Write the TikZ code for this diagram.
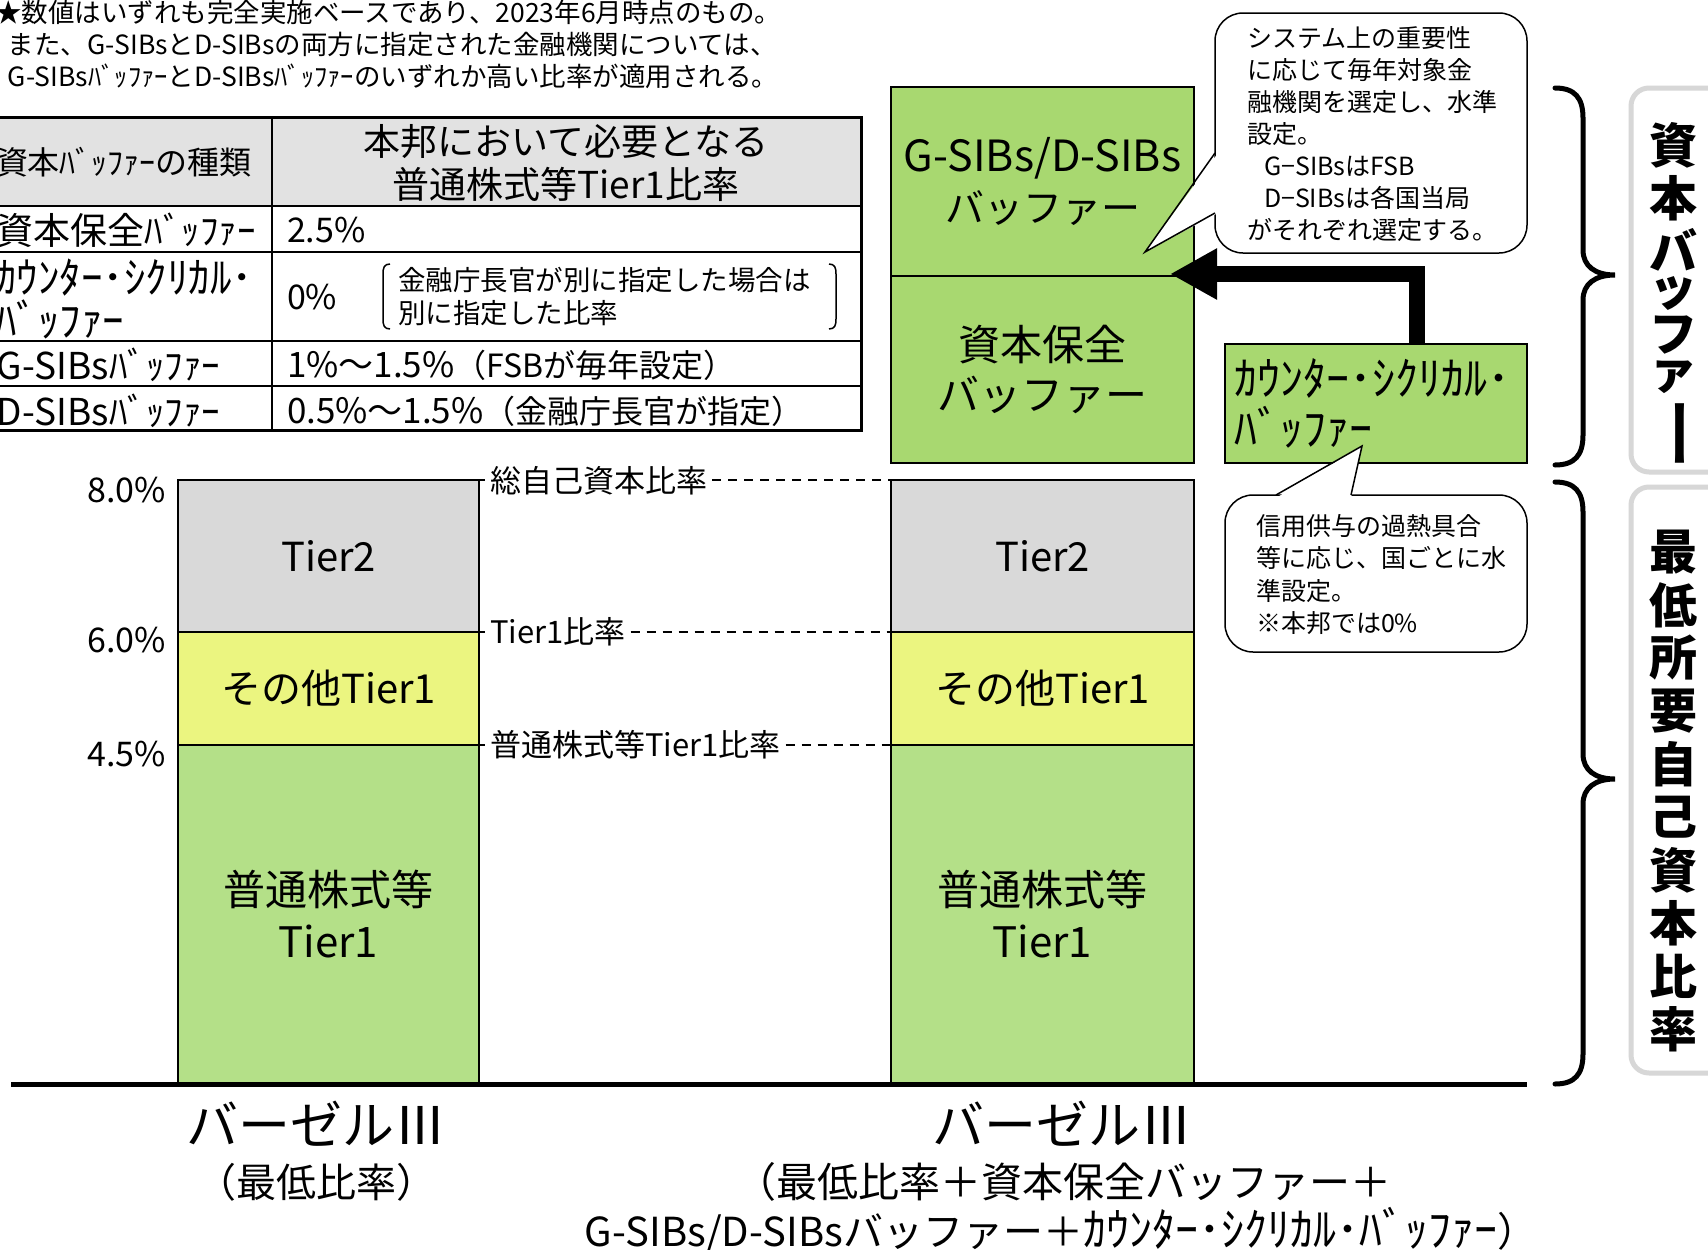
\documentclass[tikz,border=0pt]{standalone}
\usepackage{fontspec}
\setmainfont{Noto Sans CJK JP}
\usetikzlibrary{arrows.meta}
\definecolor{cgreen}{RGB}{180,224,136}
\definecolor{bgreen}{RGB}{168,216,112}
\definecolor{cyellow}{RGB}{235,245,128}
\definecolor{cgray}{RGB}{217,217,217}
\definecolor{hdrgray}{RGB}{226,226,226}
\definecolor{lblgray}{RGB}{215,215,215}
\newcommand\myfs[1]{\fontsize{#1}{#1}\selectfont}
\begin{document}
\begin{tikzpicture}[x=1pt,y=-1pt,
  barbox/.style={draw=black, line width=2pt, inner sep=0pt, outer sep=0pt, align=center},
  lbl/.style={inner sep=0pt, outer sep=0pt},
  dashln/.style={line width=2pt, dash pattern=on 9pt off 7pt},
  tickln/.style={line width=2pt},
  tline/.style={line width=2.5pt},
  callout/.style={draw=black, line width=1.5pt, fill=white, rounded corners=28pt},
  bracepath/.style={line width=5pt, line cap=round},
  vlab/.style={inner sep=0pt, font={\bfseries\fontsize{48}{48}\selectfont}},
  lblbox/.style={draw=lblgray, line width=5pt, rounded corners=18pt},
  bigarrow/.style={line width=16pt, -{Triangle[length=47pt,width=48pt]}}
]
\clip (0,0) rectangle (1708,1250);
\fill[white] (0,0) rectangle (1708,1250);

% header notes
\node[lbl, anchor=west, font=\myfs{26.5}] (n1) at (-5,12) {★数値はいずれも完全実施ベースであり、2023年6月時点のもの。};
\node[lbl, anchor=west, font=\myfs{26.5}] (n2) at (8,44) {また、G-SIBsとD-SIBsの両方に指定された金融機関については、};
\node[lbl, anchor=west, font=\myfs{26.5}] (n3) at (8,76) {G-SIBsﾊﾞｯﾌｧｰとD-SIBsﾊﾞｯﾌｧｰのいずれか高い比率が適用される。};

% table
\fill[hdrgray] (-5,117) rectangle (861,206);
\draw[tline] (-5,206) -- (861,206);
\draw[tline] (-5,252) -- (861,252);
\draw[tline] (-5,341) -- (861,341);
\draw[tline] (-5,386) -- (861,386);
\draw[tline] (272,117) -- (272,430);
\draw[line width=3pt] (-5,117) rectangle (861,430);
\node[lbl, anchor=west, font=\myfs{32}] (th1) at (-4,162) {資本ﾊﾞｯﾌｧｰの種類};
\node[lbl, align=center, font={\fontsize{37}{43}\selectfont}] (th2) at (566,163.5) {本邦において必要となる\\普通株式等Tier1比率};
\node[lbl, anchor=west, font=\myfs{37}] (r1a) at (-3,230) {資本保全ﾊﾞｯﾌｧｰ};
\node[lbl, anchor=west, font=\myfs{34}] (r1b) at (287,230) {2.5\%};
\node[lbl, anchor=west, align=left, font={\fontsize{43}{43}\selectfont}] (r2a) at (-5,299) {ｶｳﾝﾀｰ･ｼｸﾘｶﾙ･\\ﾊﾞｯﾌｧｰ};
\node[lbl, anchor=west, font=\myfs{34}] (r2b) at (287,297) {0\%};
\node[lbl, anchor=west, align=left, font={\fontsize{27.5}{33}\selectfont}] (r2c) at (398,297) {金融庁長官が別に指定した場合は\\別に指定した比率};
\draw[line width=1.5pt] (390,264) .. controls (384,264) and (383,268) .. (383,274) -- (383,319) .. controls (383,325) and (384,329) .. (390,329);
\draw[line width=1.5pt] (829,264) .. controls (835,264) and (836,268) .. (836,274) -- (836,319) .. controls (836,325) and (835,329) .. (829,329);
\node[lbl, anchor=west, font=\myfs{37}] (r3a) at (-3,365) {G-SIBsﾊﾞｯﾌｧｰ};
\node[lbl, anchor=west, font=\myfs{35}] (r3b) at (287,365) {1\%～1.5\%{\myfs{32}（FSBが毎年設定）}};
\node[lbl, anchor=west, font=\myfs{37}] (r4a) at (-3,411) {D-SIBsﾊﾞｯﾌｧｰ};
\node[lbl, anchor=west, font=\myfs{35}] (r4b) at (287,411) {0.5\%～1.5\%{\myfs{32}（金融庁長官が指定）}};

% left bar
\node[barbox, fill=cgray, minimum width=301pt, minimum height=152pt, font=\myfs{40}] (t2L) at (328.5,556) {Tier2};
\node[barbox, fill=cyellow, minimum width=301pt, minimum height=113pt, font=\myfs{40}] (otL) at (328.5,688.5) {その他Tier1};
\node[barbox, fill=cgreen, minimum width=301pt, minimum height=339pt, font={\fontsize{42}{52}\selectfont}] (ceL) at (328.5,914.5) {普通株式等\\Tier1};

% right bar
\node[barbox, fill=cgray, minimum width=303pt, minimum height=152pt, font=\myfs{40}] (t2R) at (1042.5,556) {Tier2};
\node[barbox, fill=cyellow, minimum width=303pt, minimum height=113pt, font=\myfs{40}] (otR) at (1042.5,688.5) {その他Tier1};
\node[barbox, fill=cgreen, minimum width=303pt, minimum height=339pt, font={\fontsize{42}{52}\selectfont}] (ceR) at (1042.5,914.5) {普通株式等\\Tier1};
\node[barbox, fill=bgreen, minimum width=303pt, minimum height=187pt, font={\fontsize{42}{50}\selectfont}] (csR) at (1042.5,369.5) {資本保全\\バッファー};
\node[barbox, fill=bgreen, minimum width=303pt, minimum height=189pt, font={\fontsize{43}{51}\selectfont}] (gsR) at (1042.5,181.5) {G-SIBs/D-SIBs\\{\myfs{39}バッファー}};

% counter-cyclical box
\node[barbox, fill=bgreen, line width=2.5pt, minimum width=302pt, minimum height=119pt, text width=284pt, inner xsep=9pt, align=left, font={\fontsize{46}{50}\selectfont}] (cc) at (1376,403.5) {ｶｳﾝﾀｰ･ｼｸﾘｶﾙ･\\ﾊﾞｯﾌｧｰ};

% y-axis labels
\node[lbl, anchor=east, font=\myfs{34}] (y8) at (166,490) {8.0\%};
\node[lbl, anchor=east, font=\myfs{34}] (y6) at (166,640) {6.0\%};
\node[lbl, anchor=east, font=\myfs{34}] (y45) at (166,754) {4.5\%};

% reference lines
\node[lbl, anchor=west, inner xsep=5pt, font=\myfs{31}] (la) at (485,481) {総自己資本比率};
\node[lbl, anchor=west, inner xsep=5pt, font=\myfs{31}] (lb) at (485,632) {Tier1比率};
\node[lbl, anchor=west, inner xsep=5pt, font=\myfs{31}] (lc) at (485,745) {普通株式等Tier1比率};
\draw[tickln] (t2L.north east) -- (la.west |- t2L.north east);
\draw[dashln] (la.east |- t2R.north west) -- (t2R.north west);
\draw[tickln] (otL.north east) -- (lb.west);
\draw[dashln] (lb.east) -- (otR.north west);
\draw[tickln] (ceL.north east) -- (lc.west);
\draw[dashln] (lc.east) -- (ceR.north west);

% axis
\coordinate (ax1) at (11,1084);
\coordinate (ax2) at (1527,1084);
\draw[line width=5pt] (ax1) -- (ax2);

% callout 1
\draw[callout] (1215,13) rectangle (1527,253);
\fill[white] (1145,252) -- (1218,213) -- (1218,153) -- cycle;
\draw[line width=1.5pt, line join=miter] (1215,153) -- (1145,252) -- (1215,213);
\node[lbl, anchor=west, align=left, font={\fontsize{25}{32}\selectfont}] (cb1) at (1247,134) {システム上の重要性\\に応じて毎年対象金\\融機関を選定し、水準\\設定。\\\hspace*{17pt}G−SIBsはFSB\\\hspace*{17pt}D−SIBsは各国当局\\がそれぞれ選定する。};

% arrow
\coordinate (atip) at (1170,274);
\draw[bigarrow] ([xshift=41pt]cc.north) |- (atip);

% callout 2
\draw[callout] (1225,495) rectangle (1527,652);
\fill[white] (1362,446) -- (1351,498) -- (1276,498) -- cycle;
\draw[line width=1.5pt, line join=miter] (1276,495) -- (1362,446) -- (1351,495);
\node[lbl, anchor=west, align=left, font={\fontsize{25}{32.3}\selectfont}] (cb2) at (1256,574.5) {信用供与の過熱具合\\等に応じ、国ごとに水\\準設定。\\※本邦では0\%};

% braces
\draw[bracepath] (1555,88) .. controls (1575,88) and (1583,98) .. (1583,118) -- (1583,250) .. controls (1583,266) and (1595,275) .. (1615,275) .. controls (1595,275) and (1583,284) .. (1583,300) -- (1583,435) .. controls (1583,455) and (1575,465) .. (1555,465);
\draw[bracepath] (1555,482) .. controls (1575,482) and (1583,492) .. (1583,512) -- (1583,754) .. controls (1583,770) and (1595,779) .. (1615,779) .. controls (1595,779) and (1583,788) .. (1583,804) -- (1583,1054) .. controls (1583,1074) and (1575,1084) .. (1555,1084);

% side labels
\draw[lblbox] (1631,88) rectangle (1745,472);
\draw[lblbox] (1631,487) rectangle (1745,1073);
\foreach \c/\yy [count=\i] in {資/145,本/198,バ/250,ッ/293,フ/335,ァ/377}
  \node[vlab] (vu\i) at (1673,\yy) {\c};
\node[vlab] (vu7) at (1673,433) {\rotatebox{-90}{\scalebox{1.5}[1]{ー}}};
\foreach \c [count=\i] in {最,低,所,要,自,己,資,本,比,率}
  \node[vlab] (vl\i) at (1673,{552+53*(\i-1)}) {\c};

% bottom labels
\node[lbl, font=\myfs{52}] (bL1) at (316,1124) {バーゼルⅢ};
\node[lbl, font=\myfs{40}] (bL2) at (316,1182) {（最低比率）};
\node[lbl, font=\myfs{52}] (bR1) at (1062,1124) {バーゼルⅢ};
\node[lbl, font=\myfs{41}] (bR2) at (1063,1182) {（最低比率＋資本保全バッファー＋};
\node[lbl, font=\myfs{40}] (bR3) at (1061,1230) {G-SIBs/D-SIBsバッファー＋{\myfs{46}ｶｳﾝﾀｰ･ｼｸﾘｶﾙ･ﾊﾞｯﾌｧｰ}）};
\end{tikzpicture}
\end{document}
